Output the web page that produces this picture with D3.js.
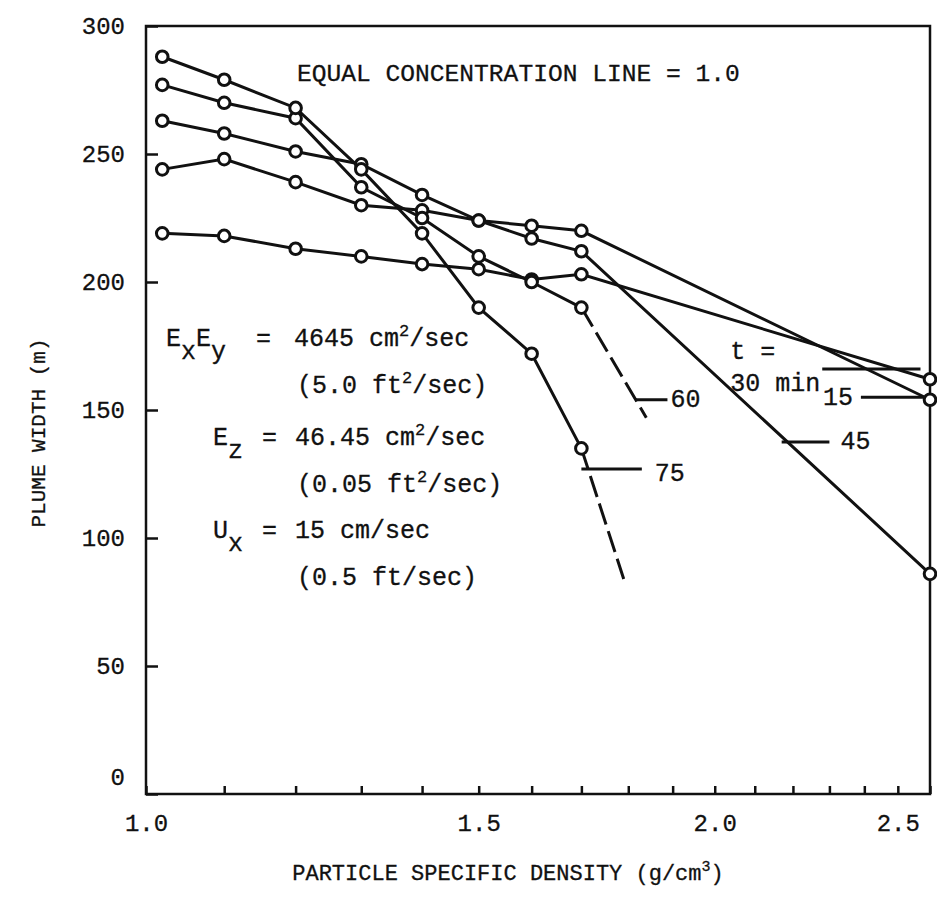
<!DOCTYPE html>
<html>
<head>
<meta charset="utf-8">
<script src="https://cdn.jsdelivr.net/npm/d3@7"></script>
<style>
  body { margin: 0; background: #fff; }
  text { font-family: "Liberation Mono", "DejaVu Sans Mono", monospace; fill: #111; stroke: #111; stroke-width: 0.3px; }
</style>
</head>
<body>
<script>
// densities (g/cm3) where the curves were computed
let densities = [1.02, 1.1, 1.2, 1.3, 1.4, 1.5, 1.6, 1.7, 2.6];

// plume width (m) for each travel time
let width15 = [263, 258, 251, 246, 234, 224, 222, 220, 154];
let width30 = [219, 218, 213, 210, 207, 205, 201, 203, 162];
let width45 = [244, 248, 239, 230, 228, 224, 217, 212, 86];
let width60 = [277, 270, 264, 237, 225, 210, 200, 190, null];
let width75 = [288, 279, 268, 244, 219, 190, 172, 135, null];

// extrapolated (dashed) ends for 60 and 75 min: [density, width]
let dashEnd60 = [1.84, 147];
let dashEnd75 = [1.79, 84];

let xTicks = [1.0, 1.1, 1.2, 1.3, 1.4, 1.5, 1.6, 1.7, 1.8, 1.9, 2.0, 2.1, 2.2, 2.3, 2.4, 2.5, 2.6];
let xLabels = [1.0, 1.5, 2.0, 2.5];
let yTicks = [0, 50, 100, 150, 200, 250, 300];

let svgWidth = 937;
let svgHeight = 909;

let margin = { top: 26, right: 7, bottom: 115, left: 146 };
let width = svgWidth - margin.left - margin.right;
let height = svgHeight - margin.top - margin.bottom;

let svg = d3.select("body")
  .append("svg")
  .attr("width", svgWidth)
  .attr("height", svgHeight);

let chartGroup = svg.append("g")
  .attr("transform", `translate(${margin.left}, ${margin.top})`);

let x = d3.scaleLog()
  .domain([1, 2.6])
  .range([0, width]);

let y = d3.scaleLinear()
  .domain([0, 300])
  .range([height, 0]);

// frame
chartGroup.append("rect")
  .attr("x", 0)
  .attr("y", 0)
  .attr("width", width)
  .attr("height", height)
  .attr("fill", "none")
  .attr("stroke", "#111")
  .attr("stroke-width", 2.5);

let bottomAxis = d3.axisBottom(x)
  .tickValues(xTicks)
  .tickSize(-8)
  .tickPadding(20)
  .tickFormat(d => xLabels.some(v => Math.abs(v - d) < 1e-9) ? d3.format(".1f")(d) : "");

let leftAxis = d3.axisLeft(y)
  .tickValues(yTicks)
  .tickSize(-12)
  .tickPadding(21)
  .tickFormat(d3.format("d"));

let gx = chartGroup.append("g")
  .attr("transform", `translate(0, ${height})`)
  .call(bottomAxis);

let gy = chartGroup.append("g")
  .call(leftAxis);

[gx, gy].forEach(g => {
  g.select(".domain").remove();
  g.selectAll("line").attr("stroke", "#111").attr("stroke-width", 2.5);
  g.selectAll("text")
    .style("font-family", "'Liberation Mono', monospace")
    .style("font-size", "24px")
    .attr("fill", "#111");
});

// the 0 label sits a little above the corner
gy.selectAll(".tick")
  .filter(d => d === 0)
  .select("text")
  .attr("dy", "-0.4em");

let line = d3.line()
  .defined(d => d[1] !== null)
  .x(d => x(d[0]))
  .y(d => y(d[1]));

let allSeries = [width15, width30, width45, width60, width75];

allSeries.forEach(vals => {
  let pts = densities.map((d, i) => [d, vals[i]]).filter(p => p[1] !== null);
  chartGroup.append("path")
    .datum(pts)
    .attr("d", line)
    .attr("fill", "none")
    .attr("stroke", "#111")
    .attr("stroke-width", 3);
});

// dashed extrapolations
[[width60, dashEnd60], [width75, dashEnd75]].forEach(([vals, end]) => {
  let last = [densities[7], vals[7]];
  chartGroup.append("path")
    .datum([last, end])
    .attr("d", line)
    .attr("fill", "none")
    .attr("stroke", "#111")
    .attr("stroke-width", 3)
    .attr("stroke-dasharray", "22,7");
});

// circles
allSeries.forEach(vals => {
  chartGroup.selectAll(null)
    .data(densities.map((d, i) => [d, vals[i]]).filter(p => p[1] !== null))
    .enter()
    .append("circle")
    .attr("cx", d => x(d[0]))
    .attr("cy", d => y(d[1]))
    .attr("r", 5.8)
    .attr("fill", "#fff")
    .attr("stroke", "#111")
    .attr("stroke-width", 3);
});

// leader lines and curve labels
let leaders = [
  { x1: 2.28, x2: 2.57, v: 166 },
  { x1: 2.39, x2: 2.58, v: 155 },
  { x1: 2.17, x2: 2.30, v: 137.5 },
  { x1: 1.815, x2: 1.888, v: 154 },
  { x1: 1.70, x2: 1.83, v: 127 }
];

chartGroup.selectAll(null)
  .data(leaders)
  .enter()
  .append("line")
  .attr("x1", d => x(d.x1))
  .attr("x2", d => x(d.x2))
  .attr("y1", d => y(d.v))
  .attr("y2", d => y(d.v))
  .attr("stroke", "#111")
  .attr("stroke-width", 3);

let labelStyle = t => t.style("font-size", "25px");

chartGroup.append("text")
  .attr("x", x(2.28) - 92)
  .attr("y", y(166) - 10)
  .call(labelStyle)
  .text("t =");
chartGroup.append("text")
  .attr("x", x(2.28) - 92)
  .attr("y", y(166) + 22)
  .call(labelStyle)
  .text("30 min");
chartGroup.append("text")
  .attr("x", x(2.39) - 8)
  .attr("y", y(155) + 8)
  .attr("text-anchor", "end")
  .call(labelStyle)
  .text("15");
chartGroup.append("text")
  .attr("x", x(2.30) + 11)
  .attr("y", y(137.5) + 7)
  .call(labelStyle)
  .text("45");
chartGroup.append("text")
  .attr("x", x(1.888) + 3)
  .attr("y", y(154) + 7)
  .call(labelStyle)
  .text("60");
chartGroup.append("text")
  .attr("x", x(1.83) + 13)
  .attr("y", y(127) + 12)
  .call(labelStyle)
  .text("75");

// headline inside the plot
svg.append("text")
  .attr("x", 297)
  .attr("y", 81)
  .style("font-size", "24.6px")
  .text("EQUAL CONCENTRATION LINE = 1.0");

// parameter block
let fs = "25px";
function subText(g, xPos, yPos, parts) {
  let t = g.append("text").attr("x", xPos).attr("y", yPos).style("font-size", fs);
  parts.forEach(p => {
    let ts = t.append("tspan").text(p.t);
    if (p.sub) ts.attr("dy", 13);
    if (p.back) ts.attr("dy", -13);
    if (p.sup) ts.attr("dy", -10).style("font-size", "17px");
    if (p.down) ts.attr("dy", 10);
  });
  return t;
}

let block = svg.append("g");
subText(block, 166, 346, [{ t: "E" }, { t: "x", sub: true }, { t: "E", back: true }, { t: "y", sub: true }]);
block.append("text").attr("x", 256).attr("y", 346).style("font-size", fs).text("=");
subText(block, 294, 346, [{ t: "4645 cm" }, { t: "2", sup: true }, { t: "/sec", down: true }]);
subText(block, 297, 393, [{ t: "(5.0 ft" }, { t: "2", sup: true }, { t: "/sec)", down: true }]);

subText(block, 213, 445, [{ t: "E" }, { t: "z", sub: true }]);
block.append("text").attr("x", 262).attr("y", 445).style("font-size", fs).text("=");
subText(block, 295, 445, [{ t: "46.45 cm" }, { t: "2", sup: true }, { t: "/sec", down: true }]);
subText(block, 297, 492, [{ t: "(0.05 ft" }, { t: "2", sup: true }, { t: "/sec)", down: true }]);

subText(block, 213, 538, [{ t: "U" }, { t: "x", sub: true }]);
block.append("text").attr("x", 262).attr("y", 538).style("font-size", fs).text("=");
block.append("text").attr("x", 295).attr("y", 538).style("font-size", fs).text("15 cm/sec");
block.append("text").attr("x", 297).attr("y", 585).style("font-size", fs).text("(0.5 ft/sec)");

// axis titles
let xTitle = svg.append("text")
  .attr("x", 508)
  .attr("y", 880)
  .attr("text-anchor", "middle")
  .style("font-size", "22px");
xTitle.append("tspan").text("PARTICLE SPECIFIC DENSITY (g/cm");
xTitle.append("tspan").attr("dy", -9).style("font-size", "15px").text("3");
xTitle.append("tspan").attr("dy", 9).text(")");

svg.append("text")
  .attr("transform", "translate(45, 433) rotate(-90)")
  .attr("text-anchor", "middle")
  .style("font-size", "21px")
  .text("PLUME WIDTH (m)");
</script>
</body>
</html>
